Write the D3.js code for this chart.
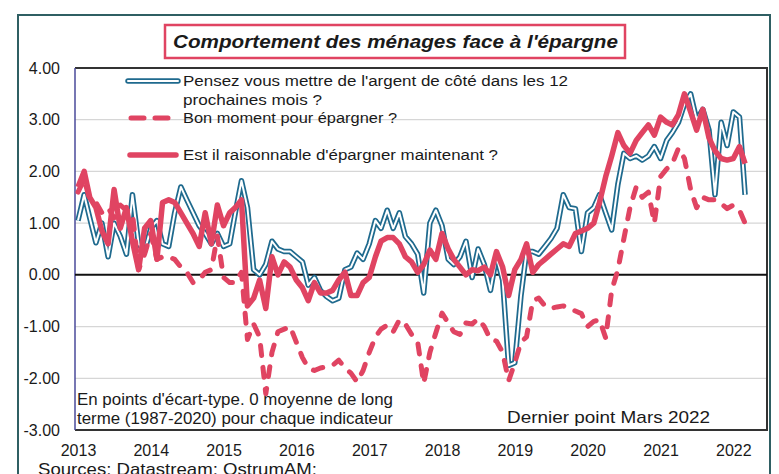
<!DOCTYPE html>
<html>
<head>
<meta charset="utf-8">
<script src="https://cdn.jsdelivr.net/npm/d3@7"></script>
<style>
  body { margin: 0; background: #fff; }
  svg text { font-family: Arial, "Liberation Sans", sans-serif; fill: #1a1a1a; }
</style>
</head>
<body>
<script>
// Constants
var w = 779,
    h = 474;

// Monthly data, Jan 2013 -> Mar 2022 (in std-dev points)
var startYear = 2013;

// "Pensez vous mettre de l'argent de côté dans les 12 prochaines mois ?"
var pensezVous = [
  1.05, 1.55, 1.10, 0.62, 1.00, 0.35, 1.00, 0.75, 0.40, 1.55, 0.60, 0.45,
  0.90, 1.05, 0.60, 0.55, 1.20, 1.70, 1.45, 1.20, 0.95, 0.80, 0.60, 0.80,
  0.55, 0.60, 1.20, 1.82, 1.30, 0.10, 0.00, 0.20, 0.65, 0.50, 0.45, 0.45,
  0.35, 0.25, -0.20, -0.05, -0.30, -0.42, -0.50, -0.45, 0.10, 0.15, 0.42, 0.30,
  0.60, 1.05, 0.90, 1.25, 0.90, 1.20, 0.74, 0.60, 0.40, -0.35, 1.00, 1.25,
  0.95, 0.30, 0.20, 0.35, 0.65, -0.05, 0.50, 0.20, -0.30, 0.35, -0.10, -1.75,
  -1.70, -0.40, 0.45, 0.45, 0.40, 0.55, 0.70, 0.90, 1.55, 1.30, 1.28, 0.45,
  1.20, 1.30, 1.55, 1.20, 0.87, 1.75, 2.35, 2.25, 2.30, 2.22, 2.30, 2.48,
  2.25, 2.60, 2.75, 2.95, 3.30, 3.50, 3.00, 3.20, 2.80, 1.55, 2.95, 2.50,
  3.15, 3.05, 1.55
];

// "Bon moment pour épargner ?"
var bonMoment = [
  1.60, 1.85, 1.45, 1.40, 1.20, 1.30, 1.10, 1.35, 1.25, 1.20, 0.10, 0.40,
  0.80, 0.30, 0.35, 0.35, 0.30, 0.15, 0.05, -0.15, -0.10, 0.05, 0.10, 0.75,
  -0.05, -0.15, -0.15, 0.05, -1.25, -0.95, -1.20, -2.30, -1.50, -1.10, -1.05, -1.00,
  -1.30, -1.60, -1.80, -1.85, -1.80, -1.78, -1.75, -1.65, -1.80, -1.90, -2.07, -1.85,
  -1.50, -1.20, -1.05, -0.97, -1.10, -0.87, -0.95, -1.15, -1.30, -2.10, -1.50, -1.12,
  -0.74, -0.93, -1.10, -1.15, -0.93, -0.95, -0.85, -1.00, -1.25, -1.28, -1.50, -2.05,
  -1.70, -1.30, -1.20, -0.50, -0.45, -0.60, -0.65, -0.62, -0.60, -0.65, -0.70, -0.75,
  -1.00, -0.90, -0.87, -1.22, -0.30, 0.10, 0.70, 1.30, 1.70, 1.50, 1.60, 1.00,
  1.90, 2.05, 2.15, 2.45, 2.25, 1.65, 1.30, 1.50, 1.45, 1.45, 1.38, 1.28,
  1.35, 1.25, 1.00
];

// "Est il raisonnable d'épargner maintenant ?"
var raisonnable = [
  1.70, 2.00, 1.50, 1.30, 0.85, 0.60, 1.65, 0.90, 1.30, 0.65, 0.10, 0.90,
  1.05, 0.30, 1.40, 1.45, 1.40, 1.20, 1.00, 0.80, 0.55, 1.20, 0.60, 1.35,
  0.95, 1.20, 1.30, 1.45, -0.60, -0.45, -0.10, -0.65, 0.35, 0.00, 0.25, 0.15,
  -0.10, -0.25, -0.50, -0.15, -0.35, -0.35, -0.30, -0.10, 0.05, -0.40, -0.40, -0.15,
  -0.05, 0.35, 0.65, 0.72, 0.72, 0.60, 0.35, 0.25, 0.05, 0.20, 0.48, 0.30,
  0.80, 0.50, 0.30, 0.15, 0.00, 0.10, 0.08, 0.15, 0.00, 0.45, 0.15, -0.40,
  0.10, 0.30, 0.60, 0.05, 0.20, 0.30, 0.40, 0.50, 0.60, 0.55, 0.80, 0.85,
  0.90, 1.00, 1.40, 1.90, 2.30, 2.75, 2.50, 2.35, 2.60, 2.75, 2.90, 2.70,
  3.05, 2.95, 2.90, 3.10, 3.50, 3.15, 2.80, 3.20, 2.65, 2.40, 2.25, 2.22,
  2.25, 2.48, 2.15
];

var yearLabels = [2013, 2014, 2015, 2016, 2017, 2018, 2019, 2020, 2021, 2022];
var yTicks = [4, 3, 2, 1, 0, -1, -2, -3];

var legendLabels = [
  ["Pensez vous mettre de l'argent de côté dans les 12", "prochaines mois ?"],
  ["Bon moment pour épargner ?"],
  ["Est il raisonnable d'épargner maintenant ?"]
];

var red = '#e04462',
    teal = '#1f6a8e';

// Scales
var xScale = d3.scaleTime()
               .domain([new Date(2012, 11, 17), new Date(2022, 5, 19)])
               .range([75, 767]);

var yScale = d3.scaleLinear()
               .domain([-3, 4])
               .range([430, 68]);

function monthDate(i) {
  return new Date(startYear, i, 1);
}

var line = d3.line()
             .x(function(d, i) { return xScale(monthDate(i)); })
             .y(function(d) { return yScale(d); });

// Create svg
var svg = d3.select('body')
            .append('svg')
            .attr('width', w)
            .attr('height', h);

// outer frame (bottom is cut off)
svg.append('rect')
   .attr('x', 18)
   .attr('y', 15)
   .attr('width', 752)
   .attr('height', 480)
   .attr('fill', '#fff')
   .attr('stroke', '#2f5f63')
   .attr('stroke-width', 2);

// Title box
svg.append('rect')
   .attr('x', 165)
   .attr('y', 25)
   .attr('width', 460)
   .attr('height', 33)
   .attr('fill', '#fff')
   .attr('stroke', red)
   .attr('stroke-width', 2.5);

svg.append('text')
   .attr('x', 173)
   .attr('y', 48)
   .attr('textLength', 445)
   .attr('lengthAdjust', 'spacingAndGlyphs')
   .style('font-size', '19px')
   .style('font-weight', 'bold')
   .style('font-style', 'italic')
   .text('Comportement des ménages face à l\'épargne');

// gridlines
svg.append('g')
   .selectAll('line')
   .data(yTicks.filter(function(d) { return d !== 0 && d !== 4 && d !== -3; }))
   .enter()
   .append('line')
   .attr('x1', 75)
   .attr('x2', 767)
   .attr('y1', function(d) { return yScale(d); })
   .attr('y2', function(d) { return yScale(d); })
   .attr('stroke', '#d6d6d6')
   .attr('stroke-width', 1.2);

// plot border
svg.append('path')
   .attr('d', 'M75,' + yScale(4) + 'H767V' + yScale(-3) + 'H75')
   .attr('fill', 'none')
   .attr('stroke', '#333')
   .attr('stroke-width', 2);

// left axis line
svg.append('line')
   .attr('x1', 75).attr('x2', 75)
   .attr('y1', yScale(4)).attr('y2', yScale(-3))
   .attr('stroke', '#4a4a9a')
   .attr('stroke-width', 1.5);

// zero line
svg.append('line')
   .attr('x1', 75)
   .attr('x2', 767)
   .attr('y1', yScale(0))
   .attr('y2', yScale(0))
   .attr('stroke', '#111')
   .attr('stroke-width', 2);

// Axes
var yAxis = d3.axisLeft(yScale)
              .tickValues(yTicks)
              .tickSize(0)
              .tickPadding(15)
              .tickFormat(function(d) { return d.toFixed(2); });

var xAxis = d3.axisBottom(xScale)
              .tickValues(yearLabels.map(function(y) { return new Date(y, 0, 1); }))
              .tickSize(0)
              .tickPadding(15)
              .tickFormat(d3.timeFormat('%Y'));

var gy = svg.append('g')
   .attr('class', 'y axis')
   .attr('transform', 'translate(75,0)')
   .call(yAxis);

var gx = svg.append('g')
   .attr('class', 'x axis')
   .attr('transform', 'translate(0,430)')
   .call(xAxis);

[gx, gy].forEach(function(g) {
  g.select('.domain').remove();
  g.selectAll('text')
   .style('font-size', '16px')
   .attr('fill', '#1a1a1a');
});

// Series: double blue line
svg.append('path')
   .datum(pensezVous)
   .attr('d', line)
   .attr('fill', 'none')
   .attr('stroke', teal)
   .attr('stroke-width', 5.5)
   .attr('stroke-linejoin', 'round');

svg.append('path')
   .datum(pensezVous)
   .attr('d', line)
   .attr('fill', 'none')
   .attr('stroke', '#fff')
   .attr('stroke-width', 2)
   .attr('stroke-linejoin', 'round');

// dashed red
svg.append('path')
   .datum(bonMoment)
   .attr('d', line)
   .attr('fill', 'none')
   .attr('stroke', red)
   .attr('stroke-width', 5)
   .attr('stroke-linecap', 'round')
   .attr('stroke-linejoin', 'round')
   .attr('stroke-dasharray', '10,12');

// solid red
svg.append('path')
   .datum(raisonnable)
   .attr('d', line)
   .attr('fill', 'none')
   .attr('stroke', red)
   .attr('stroke-width', 5.5)
   .attr('stroke-linejoin', 'round');

// Legend
var legend = svg.append('g').attr('class', 'legend');

legend.append('line')
      .attr('x1', 128).attr('x2', 178).attr('y1', 81).attr('y2', 81)
      .attr('stroke', teal).attr('stroke-width', 5.5).attr('stroke-linecap', 'round');
legend.append('line')
      .attr('x1', 128).attr('x2', 178).attr('y1', 81).attr('y2', 81)
      .attr('stroke', '#fff').attr('stroke-width', 2).attr('stroke-linecap', 'round');
legend.append('line')
      .attr('x1', 131).attr('x2', 172).attr('y1', 118).attr('y2', 118)
      .attr('stroke', red).attr('stroke-width', 5).attr('stroke-linecap', 'round')
      .attr('stroke-dasharray', '13,11');
legend.append('line')
      .attr('x1', 130).attr('x2', 176).attr('y1', 155).attr('y2', 155)
      .attr('stroke', red).attr('stroke-width', 5.5).attr('stroke-linecap', 'round');

var legendY = [[86, 105], [123], [160]];
var legendW = [[385, 139], [214], [315]];
legendLabels.forEach(function(lines, k) {
  lines.forEach(function(t, j) {
    legend.append('text')
          .attr('x', 183)
          .attr('y', legendY[k][j])
          .attr('textLength', legendW[k][j])
          .attr('lengthAdjust', 'spacingAndGlyphs')
          .style('font-size', '15.5px')
          .text(t);
  });
});

// Notes
function note(x, y, len, size, t) {
  svg.append('text')
     .attr('x', x).attr('y', y)
     .attr('textLength', len)
     .attr('lengthAdjust', 'spacingAndGlyphs')
     .style('font-size', size)
     .text(t);
}
note(77, 405, 316, '16px', 'En points d\'écart-type. 0 moyenne de long');
note(77, 424, 316, '16px', 'terme (1987-2020) pour chaque indicateur');
note(507, 423, 203, '17px', 'Dernier point Mars 2022');
note(38, 475, 279, '17px', 'Sources: Datastream; OstrumAM:');
</script>
</body>
</html>
